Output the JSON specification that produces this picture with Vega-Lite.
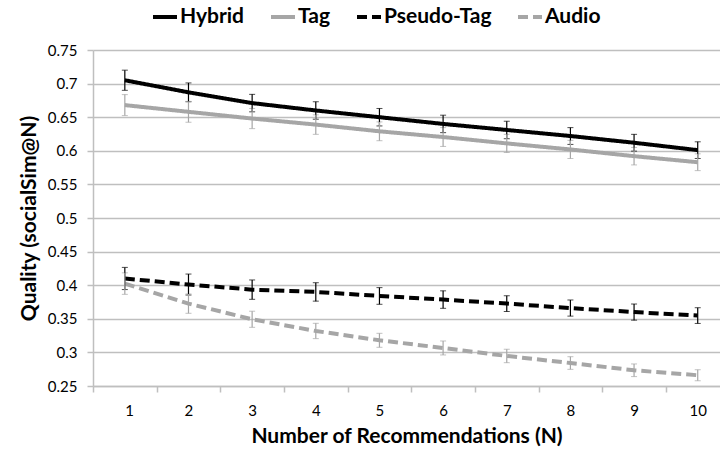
{
  "$schema": "https://vega.github.io/schema/vega-lite/v6.json",
  "width": 627,
  "height": 336,
  "autosize": "none",
  "padding": {"left": 93, "top": 50, "right": 0, "bottom": 70},
  "config": {
    "view": {"stroke": null},
    "font": "Lato",
    "axis": {"labelFont": "Lato", "titleFont": "Lato", "labelColor": "#000000", "titleColor": "#000000"}
  },
  "data": {
    "values": [
      {"n": 1, "series": "Hybrid", "q": 0.705, "err": 0.015},
      {"n": 2, "series": "Hybrid", "q": 0.687, "err": 0.014},
      {"n": 3, "series": "Hybrid", "q": 0.671, "err": 0.013},
      {"n": 4, "series": "Hybrid", "q": 0.660, "err": 0.013},
      {"n": 5, "series": "Hybrid", "q": 0.650, "err": 0.013},
      {"n": 6, "series": "Hybrid", "q": 0.640, "err": 0.013},
      {"n": 7, "series": "Hybrid", "q": 0.631, "err": 0.013},
      {"n": 8, "series": "Hybrid", "q": 0.622, "err": 0.0125},
      {"n": 9, "series": "Hybrid", "q": 0.612, "err": 0.0125},
      {"n": 10, "series": "Hybrid", "q": 0.601, "err": 0.0124},
      {"n": 1, "series": "Tag", "q": 0.668, "err": 0.0156},
      {"n": 2, "series": "Tag", "q": 0.658, "err": 0.0155},
      {"n": 3, "series": "Tag", "q": 0.648, "err": 0.015},
      {"n": 4, "series": "Tag", "q": 0.639, "err": 0.0145},
      {"n": 5, "series": "Tag", "q": 0.629, "err": 0.014},
      {"n": 6, "series": "Tag", "q": 0.6205, "err": 0.014},
      {"n": 7, "series": "Tag", "q": 0.611, "err": 0.0135},
      {"n": 8, "series": "Tag", "q": 0.602, "err": 0.0135},
      {"n": 9, "series": "Tag", "q": 0.592, "err": 0.013},
      {"n": 10, "series": "Tag", "q": 0.583, "err": 0.0125},
      {"n": 1, "series": "Pseudo-Tag", "q": 0.410, "err": 0.0165},
      {"n": 2, "series": "Pseudo-Tag", "q": 0.401, "err": 0.0156},
      {"n": 3, "series": "Pseudo-Tag", "q": 0.3934, "err": 0.0144},
      {"n": 4, "series": "Pseudo-Tag", "q": 0.390, "err": 0.0137},
      {"n": 5, "series": "Pseudo-Tag", "q": 0.384, "err": 0.0124},
      {"n": 6, "series": "Pseudo-Tag", "q": 0.3786, "err": 0.013},
      {"n": 7, "series": "Pseudo-Tag", "q": 0.3726, "err": 0.0117},
      {"n": 8, "series": "Pseudo-Tag", "q": 0.366, "err": 0.012},
      {"n": 9, "series": "Pseudo-Tag", "q": 0.360, "err": 0.012},
      {"n": 10, "series": "Pseudo-Tag", "q": 0.3548, "err": 0.0117},
      {"n": 1, "series": "Audio", "q": 0.4024, "err": 0.016},
      {"n": 2, "series": "Audio", "q": 0.3726, "err": 0.0144},
      {"n": 3, "series": "Audio", "q": 0.3493, "err": 0.012},
      {"n": 4, "series": "Audio", "q": 0.3319, "err": 0.0114},
      {"n": 5, "series": "Audio", "q": 0.318, "err": 0.0104},
      {"n": 6, "series": "Audio", "q": 0.3066, "err": 0.0104},
      {"n": 7, "series": "Audio", "q": 0.2947, "err": 0.01},
      {"n": 8, "series": "Audio", "q": 0.2842, "err": 0.0094},
      {"n": 9, "series": "Audio", "q": 0.2734, "err": 0.0094},
      {"n": 10, "series": "Audio", "q": 0.266, "err": 0.0082}
    ]
  },
  "encoding": {
    "x": {
      "field": "n",
      "type": "quantitative",
      "title": "Number of Recommendations (N)",
      "scale": {"domain": [0.5, 10.35], "nice": false, "zero": false},
      "axis": {
        "values": [0.5, 1.5, 2.5, 3.5, 4.5, 5.5, 6.5, 7.5, 8.5, 9.5],
        "labelExpr": "format(datum.value + 0.5, 'd')",
        "labelOffset": 31.8,
        "labelOverlap": false,
        "grid": false,
        "domainColor": "#bfbfbf",
        "domainWidth": 1.5,
        "tickColor": "#bfbfbf",
        "tickWidth": 1.5,
        "tickSize": 6,
        "labelFontSize": 15,
        "labelPadding": 11,
        "titleFontSize": 21,
        "titleFontWeight": "bold",
        "titlePadding": 7
      }
    },
    "y": {
      "field": "q",
      "type": "quantitative",
      "title": "Quality (socialSim@N)",
      "scale": {"domain": [0.25, 0.75], "nice": false, "zero": false},
      "axis": {
        "values": [0.25, 0.3, 0.35, 0.4, 0.45, 0.5, 0.55, 0.6, 0.65, 0.7, 0.75],
        "labelExpr": "format(datum.value, '.2~f')",
        "labelOverlap": false,
        "grid": true,
        "gridColor": "#bfbfbf",
        "gridWidth": 1.5,
        "domainColor": "#bfbfbf",
        "domainWidth": 1.5,
        "tickColor": "#bfbfbf",
        "tickWidth": 1.5,
        "tickSize": 6,
        "labelFontSize": 15,
        "labelPadding": 10,
        "titleFontSize": 21,
        "titleFontWeight": "bold",
        "titlePadding": 8
      }
    },
    "color": {
      "field": "series",
      "type": "nominal",
      "title": null,
      "scale": {
        "domain": ["Hybrid", "Tag", "Pseudo-Tag", "Audio"],
        "range": ["#000000", "#a6a6a6", "#000000", "#a6a6a6"]
      },
      "legend": {
        "orient": "none",
        "legendX": 58,
        "legendY": -47,
        "direction": "horizontal",
        "symbolType": "stroke",
        "symbolSize": 576,
        "symbolStrokeWidth": 4,
        "symbolOpacity": 1,
        "labelFontSize": 21,
        "labelFontWeight": "bold",
        "labelColor": "#000000",
        "labelOffset": 1,
        "columnPadding": 18,
        "title": null
      }
    }
  },
  "layer": [
    {
      "mark": {"type": "line", "strokeWidth": 4},
      "encoding": {
        "strokeDash": {
          "field": "series",
          "type": "nominal",
          "title": null,
          "scale": {
            "domain": ["Hybrid", "Tag", "Pseudo-Tag", "Audio"],
            "range": [[1, 0], [1, 0], [10, 5], [10, 5]]
          }
        }
      }
    },
    {
      "mark": {"type": "errorbar", "ticks": {"size": 6}, "rule": {"strokeWidth": 1.2}},
      "encoding": {
        "yError": {"field": "err"}
      }
    }
  ]
}
